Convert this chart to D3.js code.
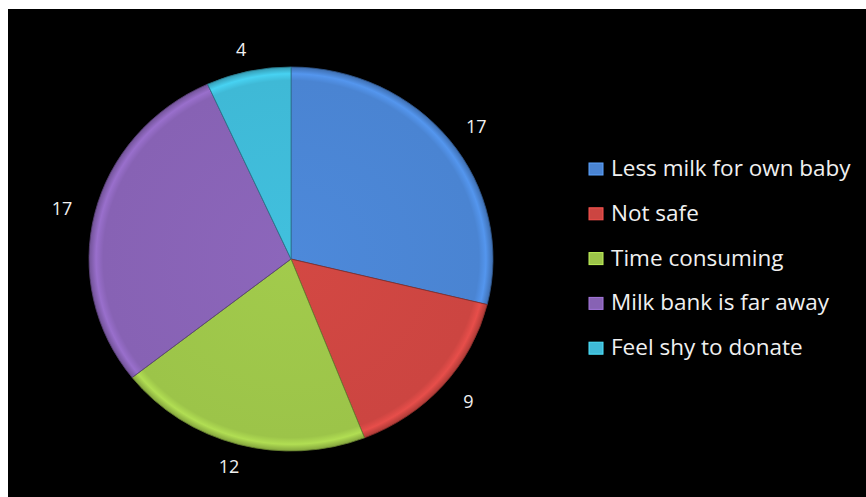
<!DOCTYPE html>
<html><head><meta charset="utf-8">
<script src="https://cdn.jsdelivr.net/npm/d3@7"></script>
<style>html,body{margin:0;padding:0;background:#fff;}svg{display:block;}</style>
</head><body>
<svg id="chart" width="866" height="497"></svg>
<script>
const categories = ["Less milk for own baby","Not safe","Time consuming","Milk bank is far away","Feel shy to donate"];
const values = [17, 9, 12, 17, 4];
const colors = ["#4a84d2","#cc4541","#9cc449","#8762b4","#3fb9d6"];

const svg = d3.select("#chart");
svg.append("rect").attr("x",8).attr("y",9).attr("width",858).attr("height",488).attr("fill","#000");

const cx = 291, cy = 259, r = 192, sx = 202/192;
const defs = svg.append("defs");
colors.forEach((c,i)=>{
  const g = defs.append("radialGradient").attr("id","g"+i)
    .attr("gradientUnits","userSpaceOnUse").attr("cx",0).attr("cy",0).attr("r",r);
  const base = d3.color(c);
  g.append("stop").attr("offset","0").attr("stop-color",base.brighter(0.1));
  g.append("stop").attr("offset","0.93").attr("stop-color",base);
  g.append("stop").attr("offset","0.965").attr("stop-color",base.brighter(0.35));
  g.append("stop").attr("offset","1").attr("stop-color",base.darker(0.5));
});

const pie = d3.pie().sort(null).value(d=>d)(values);
const arc = d3.arc().innerRadius(0).outerRadius(r);
const g = svg.append("g").attr("transform",`translate(${cx},${cy}) scale(${sx},1)`);
g.selectAll("path.slice").data(pie).join("path").attr("class","slice")
  .attr("d",arc).attr("fill",(d,i)=>`url(#g${i})`)
  .attr("stroke",(d,i)=>d3.color(colors[i]).darker(1.2)).attr("stroke-width",0.8);

const labelArc = d3.arc().innerRadius(224).outerRadius(224);
svg.append("g").selectAll("text").data(pie).join("text")
  .attr("x",d=>cx + labelArc.centroid(d)[0]*sx)
  .attr("y",d=>cy + labelArc.centroid(d)[1]*0.96)
  .attr("text-anchor","middle").attr("dominant-baseline","central")
  .attr("fill","#f0f0f0").attr("font-family","'Open Sans',sans-serif").attr("font-size",18)
  .text(d=>d.data);

const leg = svg.append("g");
categories.forEach((c,i)=>{
  const by = 176 + i*44.8;
  const base = d3.color(colors[i]);
  leg.append("rect").attr("x",589).attr("y",by-13).attr("width",14).attr("height",12)
    .attr("fill",base).attr("stroke",base.brighter(0.6)).attr("stroke-width",1);
  leg.append("text").attr("x",611).attr("y",by).attr("fill","#f0f0f0")
    .attr("font-family","'Open Sans',sans-serif").attr("font-size",22.5).text(c);
});
</script>
</body></html>
